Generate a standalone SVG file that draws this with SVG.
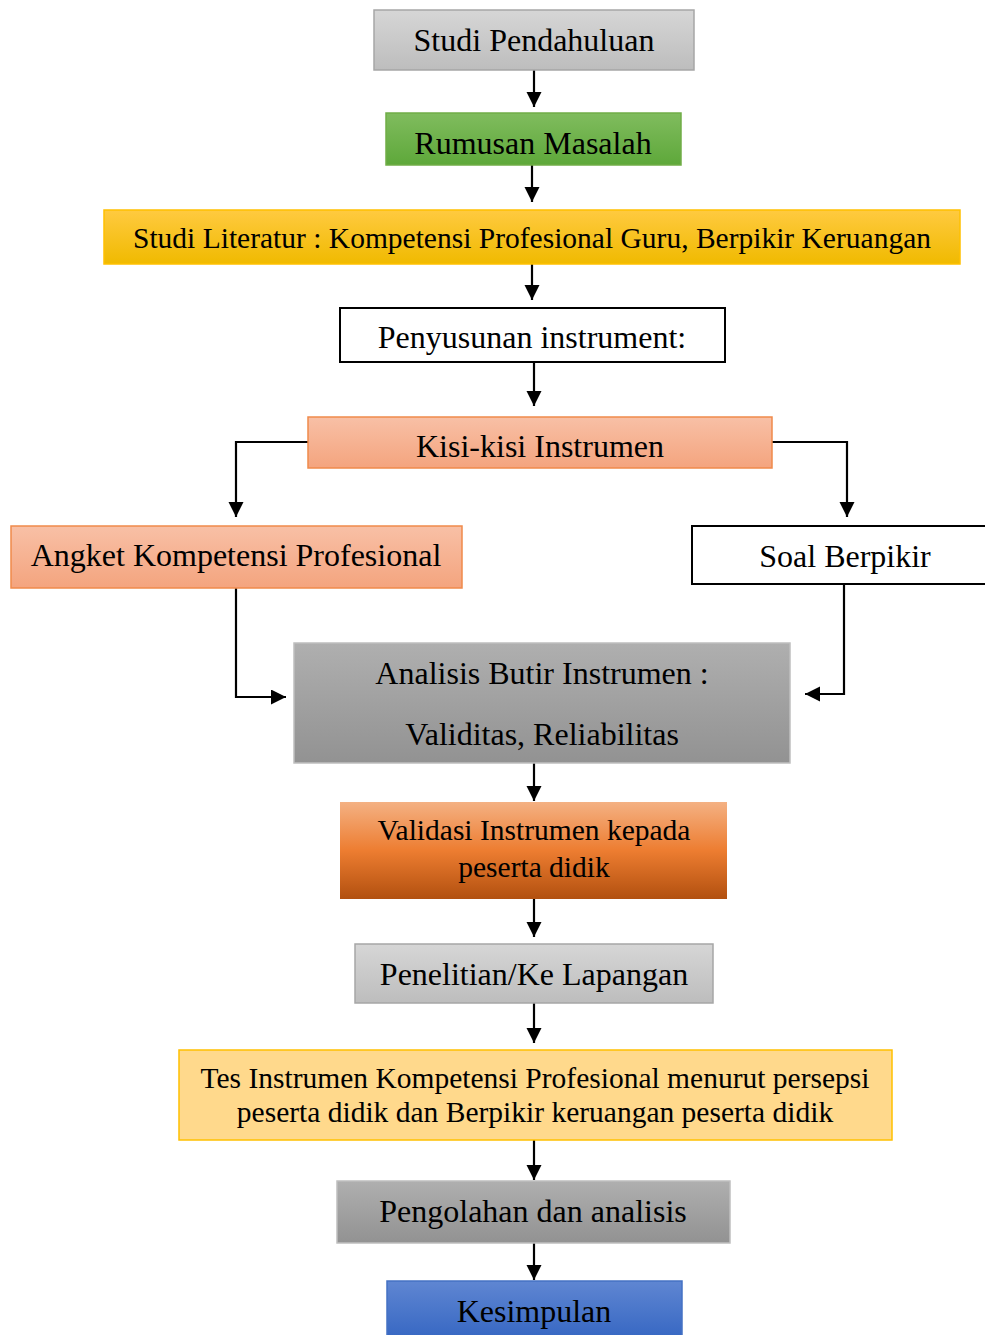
<svg xmlns="http://www.w3.org/2000/svg" width="985" height="1335" viewBox="0 0 985 1335">
<style>
text{font-family:"Liberation Serif","Times New Roman",serif;fill:#000;text-anchor:middle}
.t28{font-size:32px}
.t26{font-size:29.5px}
.conn{fill:none;stroke:#000;stroke-width:2.2}
</style>
<defs>
<linearGradient id="gGray" x1="0" y1="0" x2="0" y2="1"><stop offset="0" stop-color="#d6d6d6"/><stop offset="1" stop-color="#bdbdbd"/></linearGradient>
<linearGradient id="gGreen" x1="0" y1="0" x2="0" y2="1"><stop offset="0" stop-color="#80bc5e"/><stop offset="1" stop-color="#5ea83a"/></linearGradient>
<linearGradient id="gYellow" x1="0" y1="0" x2="0" y2="1"><stop offset="0" stop-color="#ffca40"/><stop offset="1" stop-color="#f0ba00"/></linearGradient>
<linearGradient id="gSalmon" x1="0" y1="0" x2="0" y2="1"><stop offset="0" stop-color="#f8c0a6"/><stop offset="1" stop-color="#f4a47e"/></linearGradient>
<linearGradient id="gDark" x1="0" y1="0" x2="0" y2="1"><stop offset="0" stop-color="#afafaf"/><stop offset="1" stop-color="#929292"/></linearGradient>
<linearGradient id="gOrange" x1="0" y1="0" x2="0" y2="1"><stop offset="0" stop-color="#f4b183"/><stop offset="0.5" stop-color="#ed7d31"/><stop offset="1" stop-color="#b2500f"/></linearGradient>
<linearGradient id="gBlue" x1="0" y1="0" x2="0" y2="1"><stop offset="0" stop-color="#5f86d2"/><stop offset="1" stop-color="#3566c2"/></linearGradient>
<marker id="arr" markerUnits="userSpaceOnUse" markerWidth="16" markerHeight="16" refX="15" refY="7.5" orient="auto">
<path d="M0,0 L15,7.5 L0,15 z" fill="#000"/>
</marker>
</defs>
<rect width="985" height="1335" fill="#fff"/>
<g id="connectors">
<path class="conn" d="M534,70 V107" marker-end="url(#arr)"/>
<path class="conn" d="M532,165 V202" marker-end="url(#arr)"/>
<path class="conn" d="M532,264 V300" marker-end="url(#arr)"/>
<path class="conn" d="M534,362 V406" marker-end="url(#arr)"/>
<path class="conn" d="M308,442 H236 V517" marker-end="url(#arr)"/>
<path class="conn" d="M772,442 H847 V517" marker-end="url(#arr)"/>
<path class="conn" d="M236,588 V697 H286" marker-end="url(#arr)"/>
<path class="conn" d="M844,584 V694 H805" marker-end="url(#arr)"/>
<path class="conn" d="M534,763 V801" marker-end="url(#arr)"/>
<path class="conn" d="M534,899 V937" marker-end="url(#arr)"/>
<path class="conn" d="M534,1003 V1043" marker-end="url(#arr)"/>
<path class="conn" d="M534,1140 V1180" marker-end="url(#arr)"/>
<path class="conn" d="M534,1243 V1280" marker-end="url(#arr)"/>
</g>
<g id="studi-pendahuluan">
<rect x="374" y="10" width="320" height="60" fill="url(#gGray)" stroke="#a6a6a6" stroke-width="1.5"/>
<text class="t28" x="534" y="51">Studi Pendahuluan</text>
</g>
<g id="rumusan-masalah">
<rect x="386" y="113" width="295" height="52" fill="url(#gGreen)" stroke="#70ad47" stroke-width="1.5"/>
<text class="t28" x="533" y="154">Rumusan Masalah</text>
</g>
<g id="studi-literatur">
<rect x="104" y="210" width="856" height="54" fill="url(#gYellow)" stroke="#ffc000" stroke-width="1.5"/>
<text class="t26" x="532" y="248">Studi Literatur : Kompetensi Profesional Guru, Berpikir Keruangan</text>
</g>
<g id="penyusunan">
<rect x="340" y="308" width="385" height="54" fill="#fff" stroke="#000" stroke-width="2"/>
<text class="t28" x="532" y="348">Penyusunan instrument:</text>
</g>
<g id="kisi-kisi">
<rect x="308" y="417" width="464" height="51" fill="url(#gSalmon)" stroke="#f08a4b" stroke-width="1.5"/>
<text class="t28" x="540" y="457">Kisi-kisi Instrumen</text>
</g>
<g id="angket">
<rect x="11" y="526" width="451" height="62" fill="url(#gSalmon)" stroke="#f08a4b" stroke-width="1.5"/>
<text class="t28" x="236" y="566">Angket Kompetensi Profesional</text>
</g>
<g id="soal-berpikir">
<rect x="692" y="526" width="310" height="58" fill="#fff" stroke="#000" stroke-width="2"/>
<text class="t28" x="845" y="567">Soal Berpikir</text>
</g>
<g id="analisis">
<rect x="294" y="643" width="496" height="120" fill="url(#gDark)" stroke="#bfbfbf" stroke-width="1.5"/>
<text class="t28" x="542" y="684">Analisis Butir Instrumen :</text>
<text class="t28" x="542" y="745">Validitas, Reliabilitas</text>
</g>
<g id="validasi">
<rect x="340" y="802" width="387" height="97" fill="url(#gOrange)"/>
<text class="t26" x="534" y="840">Validasi Instrumen kepada</text>
<text class="t26" x="534" y="877">peserta didik</text>
</g>
<g id="penelitian">
<rect x="355" y="944" width="358" height="59" fill="url(#gGray)" stroke="#a6a6a6" stroke-width="1.5"/>
<text class="t28" x="534" y="985">Penelitian/Ke Lapangan</text>
</g>
<g id="tes-instrumen">
<rect x="179" y="1050" width="713" height="90" fill="#ffd98c" stroke="#ffc000" stroke-width="1.5"/>
<text class="t26" x="535" y="1088">Tes Instrumen Kompetensi Profesional menurut persepsi</text>
<text class="t26" x="535" y="1122">peserta didik dan Berpikir keruangan peserta didik</text>
</g>
<g id="pengolahan">
<rect x="337" y="1181" width="393" height="62" fill="url(#gDark)" stroke="#bfbfbf" stroke-width="1.5"/>
<text class="t28" x="533" y="1222">Pengolahan dan analisis</text>
</g>
<g id="kesimpulan">
<rect x="387" y="1281" width="295" height="60" fill="url(#gBlue)" stroke="#4472c4" stroke-width="1.5"/>
<text class="t28" x="534" y="1322">Kesimpulan</text>
</g>
</svg>
